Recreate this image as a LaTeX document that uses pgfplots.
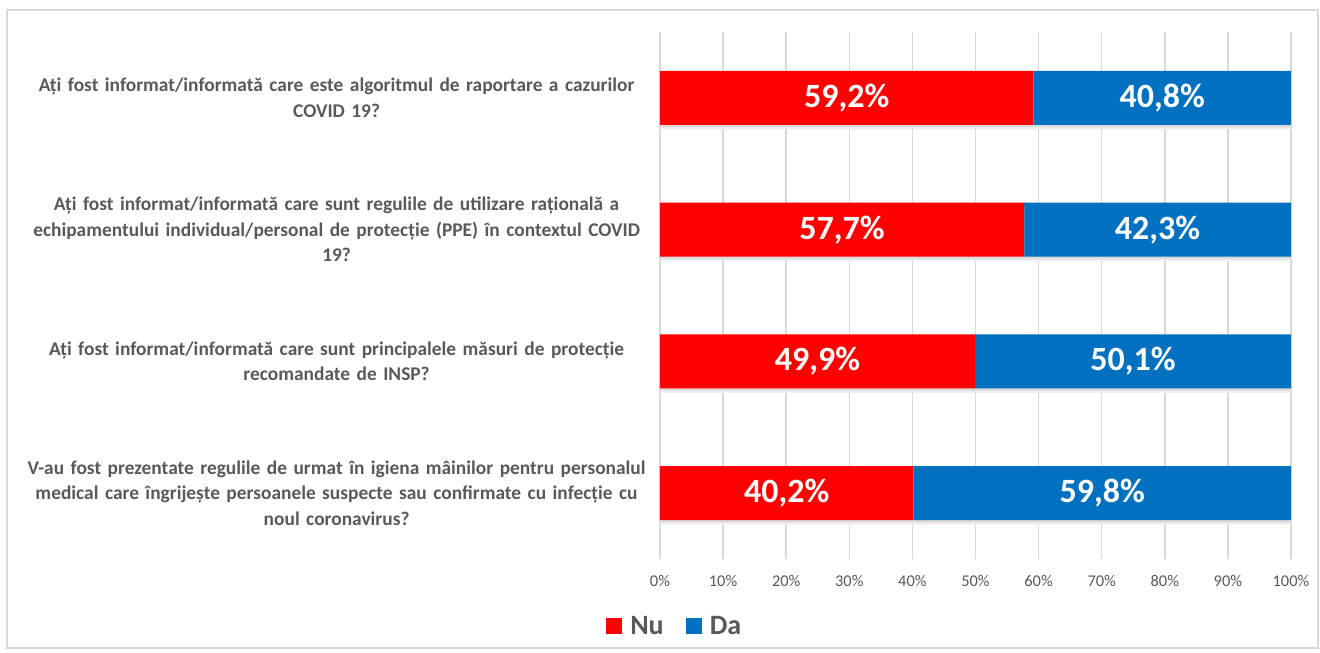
\documentclass[border=0pt]{standalone}
\usepackage{fontspec}
\setmainfont{Carlito}
\usepackage{pgfplots}
\pgfplotsset{compat=1.18}
\definecolor{nured}{HTML}{FF0000}
\definecolor{dablue}{HTML}{0070C0}
\definecolor{txtgray}{HTML}{595959}
\definecolor{gridgray}{HTML}{D9D9D9}
\tikzset{
    val/.style={font=\fontsize{17}{20}\selectfont\bfseries, text=white},
    barshadow/.style={
        preaction={fill=black!7, transform canvas={yshift=-2.2pt}},
        preaction={fill=black!14, transform canvas={yshift=-1.1pt}}}
}

\begin{document}
\begin{tikzpicture}
% page and chart frame
\path (-330pt,-46.5pt) rectangle (330pt,279.5pt);
\draw[gridgray, line width=0.75pt] (-326.5pt,-44.5pt) rectangle (329pt,274.5pt);

\begin{axis}[
    at={(0pt,0pt)}, anchor=south west,
    scale only axis,
    width=315.5pt, height=263.5pt,
    xbar stacked,
    bar width=27pt,
    xmin=0, xmax=100,
    ymin=-0.5, ymax=3.5,
    y dir=reverse,
    axis line style={draw=none},
    major tick length=0pt,
    xmajorgrids,
    grid style={gridgray, line width=0.75pt},
    xtick={0,10,...,100},
    xticklabels={0\%,10\%,20\%,30\%,40\%,50\%,60\%,70\%,80\%,90\%,100\%},
    xticklabel style={font=\fontsize{8.2}{10}\selectfont, text=txtgray, anchor=center, inner sep=0pt, yshift=-11pt},
    ytick={0,1,2,3},
    yticklabels={
        {Ați fost informat/informată care este algoritmul de raportare a cazurilor\\COVID 19?},
        {Ați fost informat/informată care sunt regulile de utilizare rațională a\\echipamentului individual/personal de protecție (PPE) în contextul COVID\\19?},
        {Ați fost informat/informată care sunt principalele măsuri de protecție\\recomandate de INSP?},
        {V-au fost prezentate regulile de urmat în igiena mâinilor pentru personalul\\medical care îngrijește persoanele suspecte sau confirmate cu infecție cu\\noul coronavirus?}
    },
    yticklabel style={font=\fontsize{9.7}{12.75}\selectfont\bfseries, text=txtgray, text width=312pt, align=center, anchor=east, inner sep=0pt, xshift=-5.5pt},
    legend columns=2,
    legend style={draw=none, fill=none, font=\fontsize{14}{16}\selectfont\bfseries, text=txtgray,
        at={(axis description cs:0.025,-0.128)}, anchor=center,
        /tikz/every even column/.append style={column sep=9pt}},
    legend image code/.code={\fill (0pt,-4pt) rectangle (8pt,4pt);},
]
\addlegendimage{fill=nured, draw=none}
\addlegendentry{\hspace{2pt}Nu}
\addlegendimage{fill=dablue, draw=none}
\addlegendentry{\hspace{2pt}Da}

\addplot[fill=nured, draw=none, barshadow, forget plot] coordinates {(59.2,0) (57.7,1) (49.9,2) (40.2,3)};
\addplot[fill=dablue, draw=none, barshadow, forget plot] coordinates {(40.8,0) (42.3,1) (50.1,2) (59.8,3)};

% anchors for value labels in the middle of each segment
\coordinate (n0) at (axis cs:29.6,0);
\coordinate (n1) at (axis cs:28.85,1);
\coordinate (n2) at (axis cs:24.95,2);
\coordinate (n3) at (axis cs:20.1,3);
\coordinate (d0) at (axis cs:79.6,0);
\coordinate (d1) at (axis cs:78.85,1);
\coordinate (d2) at (axis cs:74.95,2);
\coordinate (d3) at (axis cs:70.1,3);
\end{axis}

\node[val] at (n0) {59,2\%};
\node[val] at (n1) {57,7\%};
\node[val] at (n2) {49,9\%};
\node[val] at (n3) {40,2\%};
\node[val] at (d0) {40,8\%};
\node[val] at (d1) {42,3\%};
\node[val] at (d2) {50,1\%};
\node[val] at (d3) {59,8\%};
\end{tikzpicture}
\end{document}
